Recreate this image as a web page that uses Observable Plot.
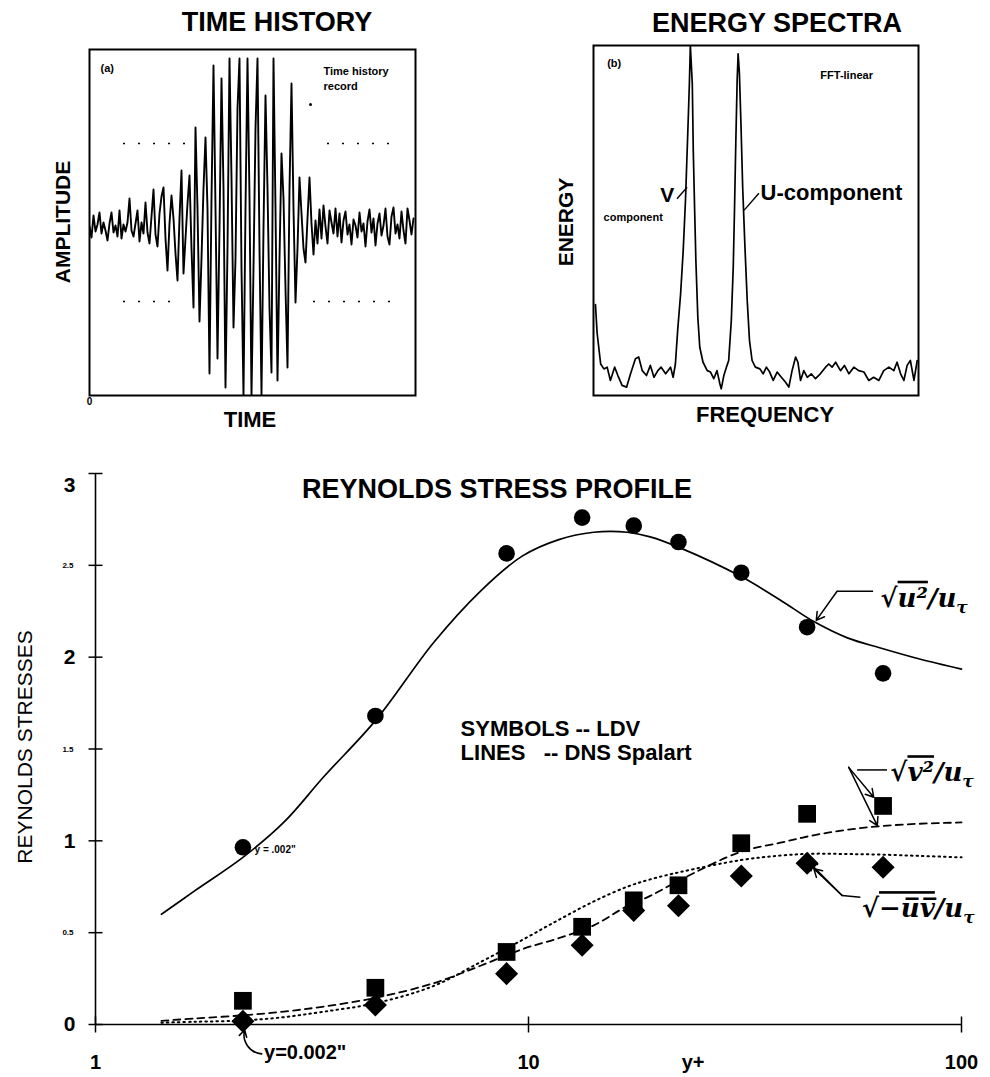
<!DOCTYPE html>
<html><head><meta charset="utf-8">
<script src="https://cdn.jsdelivr.net/npm/d3@7"></script>
<script src="https://cdn.jsdelivr.net/npm/@observablehq/plot@0.6"></script>
<style>
body{margin:0;background:#fff}
#root{position:relative;width:990px;height:1077px;overflow:hidden;background:#fff;font-family:"Liberation Sans",Arial,Helvetica,sans-serif;color:#000}
.lab{position:absolute;white-space:nowrap;transform:translate(-50%,-50%);font-weight:bold;line-height:1}
.panel{position:absolute}
</style></head><body><div id="root"></div>
<script>
// ---------- DATA ----------
// (a) time history record: amplitude samples (arbitrary units), equally spaced in time
const amplitude = [0.2,-0.9,1.3,-0.3,0.4,1.6,-0.5,0.6,-0.2,-1.2,
 0.5,1.6,-0.4,0.3,-0.8,1.8,-1.0,0.4,-0.3,0.6,
 3.0,-0.2,-0.8,0.5,1.8,-1.3,0.6,-0.5,2.6,-0.4,
 -1.5,1.2,3.9,-0.6,-1.8,1.5,3.2,4.1,-1.0,-4.2,
 0.5,3.3,1.0,-2.5,-5.2,1.0,5.8,-4.5,-1.0,2.5,
 5.3,-2.0,-7.9,10.1,2.0,-9.3,-3.0,4.0,9.1,2.0,
 -14.5,3.0,16.3,2.0,-13.0,0,15.0,4.0,-15.9,-2.0,
 17.0,5.0,-9.9,-3.0,12.0,17.0,-4.0,-16.7,2.0,17.0,
 3.0,-16.7,-4.0,10.0,17.0,-2.0,-16.7,0,13.3,4.0,
 -8.0,-14.4,17.0,2.0,-15.2,-3.0,7.5,3.0,-6.0,-13.9,
 4.0,14.5,2.0,-7.4,-2.0,5.1,1.5,-2.0,-3.4,1.0,
 5.1,0.5,-2.6,0.8,-1.5,1.9,-1.0,2.3,0.2,-1.5,
 1.8,0.6,-0.5,2.0,-0.8,1.5,-1.4,0.8,1.7,-0.6,
 0.4,-1.6,0.9,0.3,-0.9,1.6,-0.3,0.5,-1.8,0.7,
 1.9,-0.4,1.0,-1.7,0.5,1.5,-0.7,0.3,2.0,-0.8,
 -1.6,1.2,2.1,-0.5,0.4,-1.0,1.7,-0.2,-1.5,2.0,
 0.8,-0.6,1.0];
const timeGuides = [
  {y: 8.5, x1: 17, x2: 54}, {y: 8.5, x1: 119, x2: 156},
  {y: -7.3, x1: 17, x2: 44}, {y: -7.3, x1: 112, x2: 156}
];
const timeNotes = [
  {x: 5.5, y: 16.1, text: "(a)"},
  {x: 117, y: 15.05, text: "Time history\nrecord"}
];
const timeSpecks = [{x: 110.5, y: 12.4}];

// (b) energy spectrum (FFT-linear)
const freq = [0.6,1.1,2.2,3.2,4.2,5.2,6.5,7.5,8.8,10.2,
 11.4,12.9,13.9,15.0,16.3,17.5,18.6,19.8,20.8,22.2,
 23.7,24.5,25.2,25.9,26.8,27.6,28.3,29.0,29.5,29.8,
 30.4,30.7,31.1,31.5,32.1,32.7,33.7,35.0,36.0,37.0,
 38.0,38.9,39.3,40.1,40.9,41.6,42.4,43.0,43.4,43.8,
 44.2,44.5,44.9,45.4,45.9,46.6,47.3,48.0,48.8,49.8,
 51.2,52.2,53.2,54.2,55.3,56.5,57.8,59.1,60.1,61.1,
 62.2,62.9,63.7,64.7,65.8,67.0,68.3,69.8,71.4,72.4,
 73.4,74.5,76.0,77.2,78.6,80.1,81.6,83.2,84.7,86.2,
 87.8,89.3,90.9,92.4,93.4,94.5,95.5,96.5,97.5,98.6,
 99.6];
const energy = [0.26,0.18,0.09,0.076,0.081,0.043,0.081,0.057,0.029,0.024,
 0.062,0.105,0.11,0.071,0.057,0.086,0.052,0.071,0.081,0.062,
 0.081,0.052,0.09,0.186,0.29,0.414,0.557,0.748,0.89,1.0,
 0.89,0.70,0.538,0.386,0.224,0.138,0.095,0.071,0.067,0.048,
 0.071,0.033,0.019,0.057,0.081,0.10,0.214,0.367,0.538,0.729,
 0.90,0.976,0.919,0.767,0.595,0.424,0.271,0.157,0.10,0.081,
 0.076,0.062,0.081,0.067,0.043,0.067,0.052,0.038,0.024,0.071,
 0.11,0.095,0.043,0.071,0.052,0.062,0.048,0.062,0.081,0.09,
 0.081,0.095,0.071,0.086,0.062,0.081,0.071,0.067,0.043,0.052,
 0.043,0.071,0.081,0.071,0.095,0.062,0.043,0.086,0.10,0.043,
 0.10];
const specNotes = [
  {x: 4.2, y: 0.948, text: "(b)", size: 11},
  {x: 69.8, y: 0.914, text: "FFT-linear", size: 11},
  {x: 20.5, y: 0.571, text: "V", size: 21},
  {x: 3.1, y: 0.509, text: "component", size: 11},
  {x: 51.4, y: 0.58, text: "U-component", size: 22}
];
const specLeaders = [
  {x1: 25.7, y1: 0.562, x2: 28.8, y2: 0.595},
  {x1: 50.9, y1: 0.578, x2: 46.3, y2: 0.529}
];

// Reynolds stress profile: LDV symbols
const yPlus = [2.19, 4.43, 8.9, 13.3, 17.5, 22.2, 31.0, 44.0, 65.9];
const uLDV  = [0.965, 1.68, 2.565, 2.76, 2.716, 2.627, 2.46, 2.163, 1.912];
const vLDV  = [0.129, 0.20, 0.395, 0.532, 0.676, 0.758, 0.987, 1.147, 1.19];
const uvLDV = [0.018, 0.106, 0.277, 0.432, 0.621, 0.647, 0.809, 0.878, 0.856];
// DNS (Spalart) lines
const dnsYPlus = [1.42,1.7,2.19,2.72,3.37,4.45,6.04,7.75,9.67,11.75,14.15,16.9,19.1,22.4,30.9,38.2,45.5,54.5,65,80,100];
const dnsU  = [0.60,0.73,0.91,1.10,1.35,1.66,2.08,2.36,2.55,2.64,2.68,2.68,2.655,2.595,2.44,2.31,2.195,2.105,2.05,1.99,1.935];
const dnsV  = [0.02,0.033,0.05,0.07,0.098,0.146,0.225,0.32,0.41,0.47,0.54,0.645,0.70,0.787,0.94,0.99,1.03,1.06,1.08,1.093,1.10];
const dnsUV = [0.01,0.015,0.022,0.04,0.07,0.117,0.21,0.34,0.46,0.57,0.67,0.75,0.79,0.83,0.895,0.92,0.93,0.928,0.925,0.918,0.91];
// axes
const xTicks = [1, 10, 100];
const yTicksMajor = [0, 1, 2, 3];
const yTicksMinor = [0.5, 1.5, 2.5];
// annotations (data coordinates)
const legendLines = [
  {x: 6.97, y: 1.61, text: "SYMBOLS -- LDV"},
  {x: 6.97, y: 1.48, text: "LINES\u00a0\u00a0\u00a0-- DNS Spalart"}
];
const mathLabels = [
  {x: 65.0, y: 2.32, text: "√[u²]/u_τ"},
  {x: 68.5, y: 1.37, text: "√[v²]/u_τ"},
  {x: 58.9, y: 0.63, text: "√[−u\u0305v\u0305]/u_τ"}
];
const leaderSegs = [
  {x1: 62.5, y1: 2.359, x2: 51.6, y2: 2.359},
  {x1: 67.3, y1: 1.386, x2: 57.4, y2: 1.386},
  {x1: 58.4, y1: 0.693, x2: 53.0, y2: 0.702}
];
const leaderArrows = [
  {x1: 51.6, y1: 2.359, x2: 46.2, y2: 2.20},
  {x1: 54.9, y1: 1.40, x2: 62.7, y2: 1.237},
  {x1: 54.9, y1: 1.40, x2: 63.9, y2: 1.083},
  {x1: 53.0, y1: 0.702, x2: 44.4, y2: 0.884},
  {x1: 53.0, y1: 0.702, x2: 45.6, y2: 0.848}
];
const wallNotes = [
  {x: 2.33, y: 0.95, text: "y = .002\"", size: 10},
  {x: 2.45, y: -0.152, text: "y=0.002\"", size: 20}
];
const wallArrow = [{x1: 2.42, y1: -0.16, x2: 2.21, y2: -0.03}];

// ---------- RENDER ----------
const root = document.getElementById("root");
const SANS = "Liberation Sans, Arial, Helvetica, sans-serif";
function place(el, left, top) {
  const d = document.createElement("div");
  d.className = "panel"; d.style.left = left + "px"; d.style.top = top + "px";
  d.appendChild(el); root.appendChild(d);
}
function addLabel(text, x, y, size, weight = "bold", rotate = false) {
  const d = document.createElement("div");
  d.className = "lab"; d.textContent = text;
  d.style.left = x + "px"; d.style.top = y + "px"; d.style.fontSize = size + "px";
  d.style.fontWeight = weight;
  if (rotate) d.style.transform = "translate(-50%,-50%) rotate(-90deg)";
  root.appendChild(d);
}
const vTick = {draw(ctx, size) { const h = Math.sqrt(size / Math.PI); ctx.moveTo(0, -h); ctx.lineTo(0, h); }};
const hTick = {draw(ctx, size) { const h = Math.sqrt(size / Math.PI); ctx.moveTo(-h, 0); ctx.lineTo(h, 0); }};

// (a) time history
const p1 = Plot.plot({
  width: 450, height: 440, marginLeft: 89, marginRight: 35, marginTop: 49, marginBottom: 45,
  x: {domain: [0, 163], axis: null},
  y: {domain: [-16.7, 17.9], axis: null},
  style: {fontFamily: SANS, background: "transparent", overflow: "visible"},
  marks: [
    Plot.ruleY(timeGuides, {y: "y", x1: "x1", x2: "x2", strokeDasharray: "2,13", strokeWidth: 1.3}),
    Plot.lineY(amplitude, {strokeWidth: 1.9, clip: true}),
    Plot.dot(timeSpecks, {x: "x", y: "y", r: 1.5, fill: "black"}),
    Plot.frame({strokeWidth: 2}),
    Plot.text(timeNotes, {x: "x", y: "y", text: "text", textAnchor: "start", fontSize: 11, fontWeight: "bold", lineHeight: 1.3}),
    Plot.text(["0"], {x: 0, y: -16.7, text: d => d, dy: 6, fontSize: 10, fontWeight: "bold"})
  ]
});
place(p1, 0, 0);

// (b) energy spectra
const p2 = Plot.plot({
  width: 450, height: 440, marginLeft: 53, marginRight: 72, marginTop: 45, marginBottom: 45,
  x: {domain: [0, 100], axis: null},
  y: {domain: [0, 1], axis: null},
  style: {fontFamily: SANS, background: "transparent", overflow: "visible"},
  marks: [
    Plot.line(freq.map((f, i) => ({f, e: energy[i]})), {x: "f", y: "e", strokeWidth: 1.7, clip: true}),
    Plot.frame({strokeWidth: 2}),
    Plot.link(specLeaders, {x1: "x1", y1: "y1", x2: "x2", y2: "y2", strokeWidth: 1.4}),
    Plot.text(specNotes, {x: "x", y: "y", text: "text", textAnchor: "start", fontSize: d => d.size, fontWeight: "bold"})
  ]
});
place(p2, 540, 0);

// (c) Reynolds stress profile
const p3 = Plot.plot({
  width: 990, height: 637, marginLeft: 95, marginRight: 29, marginTop: 33, marginBottom: 53,
  x: {type: "log", domain: [1, 100], axis: null},
  y: {domain: [0, 3], axis: null},
  style: {fontFamily: SANS, background: "transparent", overflow: "visible"},
  marks: [
    Plot.ruleY([0], {strokeWidth: 1.6}),
    Plot.ruleX([1], {strokeWidth: 1.6}),
    Plot.dot(xTicks, {x: d => d, y: 0, symbol: vTick, r: 8, stroke: "black", fill: "none", strokeWidth: 1.5}),
    Plot.dot([...yTicksMajor, ...yTicksMinor], {x: 1, y: d => d, symbol: hTick, r: 7, stroke: "black", fill: "none", strokeWidth: 1.5}),
    Plot.text(yTicksMajor.filter(d => d < 3), {x: 1, y: d => d, text: d => String(d), dx: -20, textAnchor: "end", fontSize: 21, fontWeight: "bold"}),
    Plot.text(yTicksMajor.filter(d => d === 3), {x: 1, y: d => d, text: d => String(d), dx: -20, dy: 12, textAnchor: "end", fontSize: 21, fontWeight: "bold"}),
    Plot.text(yTicksMinor, {x: 1, y: d => d, text: d => d.toFixed(1), dx: -22, textAnchor: "end", fontSize: 8, fontWeight: "bold"}),
    Plot.text(xTicks, {x: d => d, y: 0, text: d => String(d), dy: 38, fontSize: 20, fontWeight: "bold"}),
    Plot.text(["y+"], {x: 24, y: 0, text: d => d, dy: 38, fontSize: 20, fontWeight: "bold"}),
    // DNS lines
    Plot.line(dnsYPlus, {x: d => d, y: (d, i) => dnsU[i], curve: "catmull-rom", strokeWidth: 1.7}),
    Plot.line(dnsYPlus, {x: d => d, y: (d, i) => dnsV[i], curve: "catmull-rom", strokeWidth: 1.8, strokeDasharray: "7,5"}),
    Plot.line(dnsYPlus, {x: d => d, y: (d, i) => dnsUV[i], curve: "catmull-rom", strokeWidth: 2, strokeDasharray: "1.5,4", strokeLinecap: "round"}),
    // LDV symbols
    Plot.dot(yPlus, {x: d => d, y: (d, i) => uLDV[i], r: 8.3, fill: "black", symbol: "circle"}),
    Plot.dot(yPlus, {x: d => d, y: (d, i) => vLDV[i], r: 10, fill: "black", symbol: "square"}),
    Plot.dot(yPlus, {x: d => d, y: (d, i) => uvLDV[i], r: 9.2, fill: "black", symbol: "square", rotate: 45}),
    // annotations
    Plot.text(legendLines, {x: "x", y: "y", text: "text", textAnchor: "start", fontSize: 22, fontWeight: "bold"}),
    Plot.link(leaderSegs, {x1: "x1", y1: "y1", x2: "x2", y2: "y2", strokeWidth: 1.5}),
    Plot.arrow(leaderArrows, {x1: "x1", y1: "y1", x2: "x2", y2: "y2", strokeWidth: 1.5, headLength: 9, inset: 0}),
    Plot.arrow(wallArrow, {x1: "x1", y1: "y1", x2: "x2", y2: "y2", bend: 50, strokeWidth: 1.6, headLength: 7, inset: 0}),
    Plot.text(wallNotes, {x: "x", y: "y", text: "text", textAnchor: "start", fontSize: d => d.size, fontWeight: "bold"}),
    Plot.text(mathLabels, {x: "x", y: "y", text: "text", textAnchor: "start", fontSize: 26, fontFamily: "DejaVu Serif", fontStyle: "italic", fontWeight: "bold"})
  ]
});
// typeset the math labels: [..] overlined (radical bar), _x subscript
d3.select(p3).selectAll('g[font-family="DejaVu Serif"] text').each(function () {
  const s = this.textContent, el = d3.select(this);
  el.text(null);
  const re = /\[([^\]]*)\]|_(.)|([^\[_]+)/g; let m;
  while ((m = re.exec(s))) {
    if (m[1] !== undefined) el.append("tspan").style("text-decoration", "overline").text(m[1]);
    else if (m[2] !== undefined) el.append("tspan").attr("font-size", "0.65em").attr("dy", "0.35em").text(m[2]);
    else el.append("tspan").text(m[3]);
  }
});
place(p3, 0, 440);

// titles and axis labels
addLabel("TIME HISTORY", 277, 22, 27);
addLabel("ENERGY SPECTRA", 777, 23, 27);
addLabel("TIME", 250, 420, 22);
addLabel("FREQUENCY", 765, 415, 22);
addLabel("AMPLITUDE", 62, 222, 21, "bold", true);
addLabel("ENERGY", 565, 222, 21, "bold", true);
addLabel("REYNOLDS STRESS PROFILE", 497, 489, 27);
addLabel("REYNOLDS STRESSES", 24, 747, 21, "normal", true);
</script></body></html>
